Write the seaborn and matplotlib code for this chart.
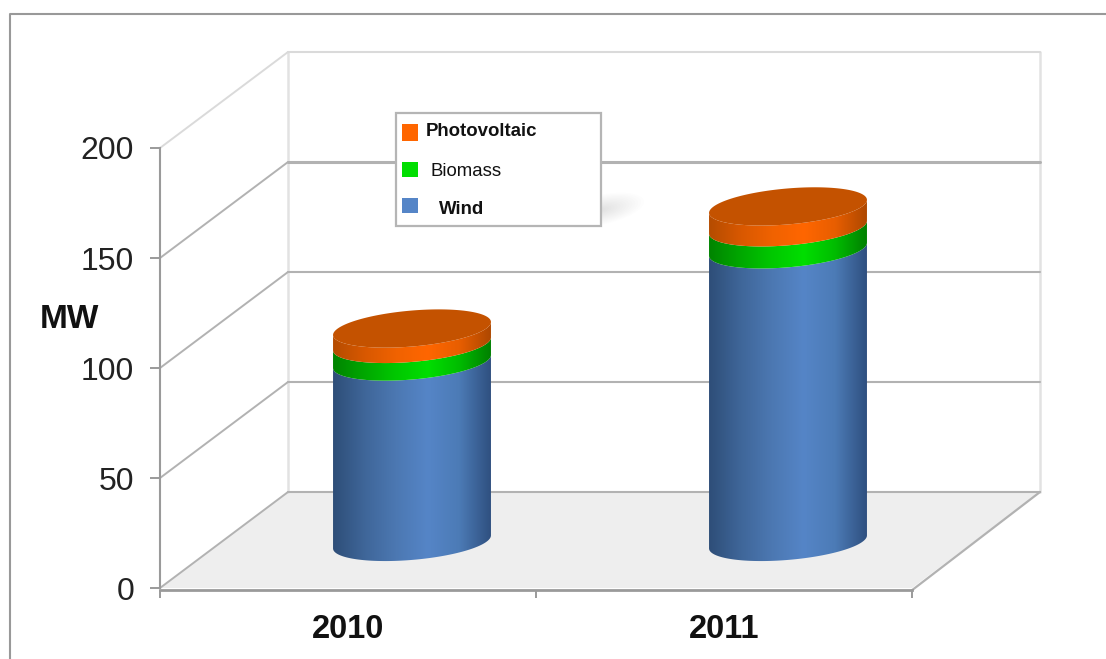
import numpy as np
import pandas as pd
import matplotlib
matplotlib.use("Agg")
import matplotlib.pyplot as plt
from matplotlib.patches import Polygon, Rectangle, Ellipse
import seaborn as sns

# ---- data ----
years = ["2010", "2011"]
wind = [82, 133]
biomass = [8, 10]
photovoltaic = [7, 9.5]
y_ticks = [0, 50, 100, 150, 200]
sources = ["Wind", "Biomass", "Photovoltaic"]

# ---- styling ----
sns.set_theme(style="white")
plt.rcParams["font.family"] = ["Liberation Sans", "DejaVu Sans"]
W, H = 1106, 659
BLUE = ["#2E4E78", "#3F6699", "#4C78B2", "#5585C7", "#4C7BB6", "#2F5080"]
GREEN = ["#008400", "#00A800", "#00C800", "#00DE00", "#00BC00", "#008000"]
ORANGE = ["#B54C00", "#D85800", "#F06200", "#FF6600", "#E85E00", "#AE4800"]
TOP = "#C45200"
WALL = "#DADADA"
GRID = "#B2B2B2"
AXIS = "#9A9A9A"

fig = plt.figure(figsize=(W / 100, H / 100), dpi=100, facecolor="white")
ax = fig.add_axes([160 / W, (H - 588) / H, 752 / W, 440 / H])
ax.set_facecolor("none")

# ---- stacked bars through seaborn: cumulative totals, tallest drawn first ----
cum1 = np.array(wind, float)
cum2 = cum1 + np.array(biomass, float)
cum3 = cum2 + np.array(photovoltaic, float)
df = pd.DataFrame({
    "year": years * 3,
    "top": np.concatenate([cum1, cum2, cum3]),
    "source": np.repeat(sources, len(years)),
})
sns.barplot(data=df, x="year", y="top", hue="source", hue_order=sources,
            dodge=False, width=0.42, legend=False, ax=ax, errorbar=None)
bars = list(ax.patches)
ax.set_xlim(-0.5, 1.5)
ax.set_ylim(0, 200)

PXX = 376.0          # pixels per category
PXY = 2.2            # pixels per MW
DX, DY = 128 / PXX, 96 / PXY     # depth of the box
MX, MY = 0.5 * DX, 0.48 * DY     # bars stand mid-depth
B, S = 18 / PXY, 6.5 / PXY       # ellipse half height, tilt

# ---- walls and floor ----
ax.add_patch(Polygon([(-0.5, 0), (1.5, 0), (1.5 + DX, DY), (-0.5 + DX, DY)],
                     closed=True, fc="#EEEEEE", ec="none", clip_on=False, zorder=0.5))
for v in y_ticks:
    col = WALL if v == 200 else GRID
    lw = 2.2 if v == 150 else 1.5
    ax.plot([-0.5, -0.5 + DX], [v, v + DY], color=col, lw=1.4, clip_on=False, zorder=1)
    ax.plot([-0.5 + DX, 1.5 + DX], [v + DY, v + DY], color=col, lw=lw, clip_on=False, zorder=1)
for xb in (-0.5 + DX, 1.5 + DX):
    ax.plot([xb, xb], [DY, 200 + DY], color="#E2E2E2", lw=1.8, clip_on=False, zorder=0.9)
ax.plot([1.5, 1.5 + DX], [-1, DY], color=GRID, lw=1.6, clip_on=False, zorder=1)


# ---- cylinders ----
def arc(cx, a, level, t):
    return np.column_stack([cx + a * np.cos(t), level + B * np.sin(t) + S * np.cos(t)])


front = np.linspace(np.pi, 2 * np.pi, 80)
full = np.linspace(0, 2 * np.pi, 160)
palettes = {"Wind": BLUE, "Biomass": GREEN, "Photovoltaic": ORANGE}
n = len(years)
for si, src in enumerate(sources):
    cmap = sns.blend_palette(palettes[src], as_cmap=True)
    for yi in range(n):
        bar = bars[si * n + yi]
        bar.set_visible(False)
        cx = bar.get_x() + bar.get_width() / 2 + MX
        a = bar.get_width() / 2
        hi = bar.get_height()
        lo = 0.0 if si == 0 else bars[(si - 1) * n + yi].get_height()
        poly = np.vstack([arc(cx, a, lo + MY, front), arc(cx, a, hi + MY, front[::-1])])
        grad = np.linspace(0, 1, 256).reshape(1, -1)
        im = ax.imshow(grad, cmap=cmap, aspect="auto", zorder=3 + si, interpolation="bilinear",
                       extent=(cx - a, cx + a, lo + MY - 2 * B, hi + MY + 2 * B))
        im.set_clip_path(Polygon(poly, closed=True, transform=ax.transData))
        if si == len(sources) - 1:
            ax.add_patch(Polygon(arc(cx, a, hi + MY, full), closed=True, fc=TOP, ec="none", zorder=8))
ax.set_xlim(-0.5, 1.5)
ax.set_ylim(0, 200)

# ---- axes ----
sns.despine(ax=ax)
for sp in ("left", "bottom"):
    ax.spines[sp].set_color(AXIS)
ax.spines["left"].set_linewidth(1.5)
ax.spines["bottom"].set_linewidth(2.0)
ax.spines["bottom"].set_position(("outward", 1.5))
ax.set_yticks(y_ticks)
ax.set_yticklabels([str(v) for v in y_ticks], fontsize=23, color="#222222")
ax.tick_params(axis="y", length=7.2, width=1.4, color=AXIS, pad=11.5, left=True)
ax.set_xticks([0, 1])
ax.set_xticklabels(years, fontsize=23.5, fontweight="bold", color="#111111")
ax.set_xticks([-0.5, 0.5, 1.5], minor=True)
ax.tick_params(axis="x", which="major", length=0, pad=17)
ax.tick_params(axis="x", which="minor", length=5.5, width=1.4, color=AXIS, bottom=True)
ax.set_xlabel("")
ax.set_ylabel("MW", rotation=0, fontsize=24, fontweight="bold", color="#111111",
              ha="center", va="center")
ax.yaxis.set_label_coords((69 - 160) / 752, (588 - 320) / 440)

# ---- overlay in image pixels: outer frame and legend ----
ov = fig.add_axes([0, 0, 1, 1], facecolor="none")
ov.set_xlim(0, W)
ov.set_ylim(H, 0)
ov.axis("off")
ov.plot([10, 10, W], [H, 14, 14], color="#999999", lw=1.5, clip_on=False)
for i in range(14):
    ov.add_patch(Ellipse((600, 210), 90 - 6 * i, 30 - 2 * i, angle=-12, fc="#555555", ec="none", alpha=0.009))
ov.add_patch(Rectangle((396, 113), 205, 112.5, fc="white", ec="#B5B5B5", lw=1.6))
legend_rows = [
    ("Photovoltaic", ORANGE[3], 124, 17, 425.5, 131.5, "bold"),
    ("Biomass", GREEN[3], 162, 15, 431, 171.5, "normal"),
    ("Wind", BLUE[3], 198, 15, 439, 209, "bold"),
]
for label, col, ys, hs, xt, yt, fw in legend_rows:
    ov.add_patch(Rectangle((402, ys), 16, hs, fc=col, ec="none"))
    ov.text(xt, yt, label, fontsize=13.4, fontweight=fw, color="#111111", ha="left", va="center")

fig.savefig("out.png", dpi=100)
